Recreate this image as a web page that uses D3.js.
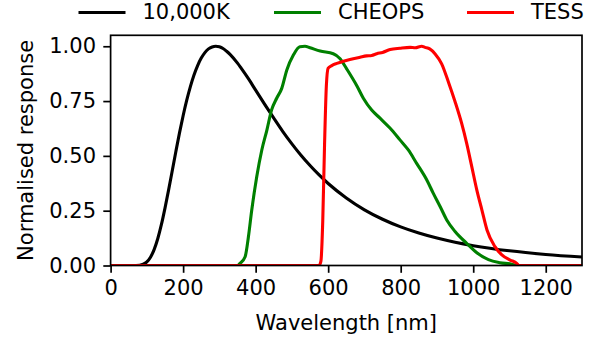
<!DOCTYPE html>
<html>
<head>
<meta charset="utf-8">
<script src="https://cdn.jsdelivr.net/npm/d3@7"></script>
<style>
  body { margin: 0; background: #fff; }
  svg { display: block; font-family: "DejaVu Sans", sans-serif; }
</style>
</head>
<body>
<div id="chart"></div>
<script>
// wavelengths (nm) and normalised response
const bbWave = [0, 60, 80, 90, 100, 110, 120, 130, 140, 150, 160, 170, 180, 190, 200, 210, 220, 230, 240, 250, 260, 270, 280, 290, 300, 310, 320, 330, 350, 360, 380, 400, 425, 450, 475, 500, 525, 550, 575, 600, 650, 700, 750, 800, 850, 900, 950, 1000, 1100, 1200, 1300];
const bbResp = [0, 0.0001, 0.0014, 0.0056, 0.0164, 0.0377, 0.0726, 0.122, 0.186, 0.262, 0.345, 0.432, 0.520, 0.605, 0.683, 0.754, 0.816, 0.869, 0.912, 0.946, 0.971, 0.988, 0.997, 1.0, 0.9975, 0.990, 0.977, 0.962, 0.923, 0.900, 0.852, 0.800, 0.735, 0.672, 0.611, 0.555, 0.503, 0.456, 0.413, 0.374, 0.308, 0.254, 0.211, 0.176, 0.148, 0.125, 0.106, 0.0905, 0.0669, 0.0505, 0.0387];

const cheopsWave = [0, 350, 357, 371, 380, 389, 403, 417, 431, 444, 458, 472, 486, 504, 522, 536, 550, 578, 614, 633, 651, 679, 697, 720, 743, 771, 798, 821, 844, 872, 890, 909, 927, 950, 982, 1010, 1042, 1074, 1106, 1120, 1150];
const cheopsResp = [0, 0, 0.01, 0.04, 0.13, 0.25, 0.405, 0.527, 0.618, 0.71, 0.763, 0.808, 0.892, 0.96, 0.998, 1.0, 0.993, 0.978, 0.966, 0.943, 0.897, 0.82, 0.763, 0.709, 0.672, 0.626, 0.573, 0.527, 0.466, 0.39, 0.329, 0.268, 0.208, 0.155, 0.101, 0.058, 0.027, 0.013, 0.006, 0, 0];

const tessWave = [0, 575, 580, 585, 590, 595, 600, 610, 624, 642, 660, 688, 706, 720, 734, 750, 771, 798, 826, 840, 858, 867, 880, 895, 913, 932, 950, 968, 982, 996, 1010, 1024, 1038, 1060, 1079, 1102, 1120, 1126, 1300];
const tessResp = [0, 0, 0.02, 0.2, 0.55, 0.82, 0.9, 0.912, 0.922, 0.932, 0.94, 0.95, 0.956, 0.958, 0.966, 0.972, 0.985, 0.991, 0.995, 0.993, 1.0, 0.995, 0.988, 0.965, 0.92, 0.835, 0.747, 0.649, 0.557, 0.451, 0.344, 0.253, 0.162, 0.086, 0.048, 0.025, 0.01, 0, 0];

const series = [
  { name: "10,000K", color: "#000000", wave: bbWave, resp: bbResp },
  { name: "CHEOPS", color: "#008000", wave: cheopsWave, resp: cheopsResp },
  { name: "TESS", color: "#ff0000", wave: tessWave, resp: tessResp }
];

const xTicks = [0, 200, 400, 600, 800, 1000, 1200];
const yTicks = [0, 0.25, 0.5, 0.75, 1.0];

const width = 601, height = 340;
const margin = {top: 35.3, right: 19, bottom: 74.5, left: 110.6};
const fontSize = "21px";

const svg = d3.select("#chart").append("svg")
  .attr("width", width)
  .attr("height", height);

const x = d3.scaleLinear()
  .domain([0, 1300])
  .range([margin.left, width - margin.right]);

const y = d3.scaleLinear()
  .domain([0, 1.05])
  .range([height - margin.bottom, margin.top]);

svg.append("clipPath").attr("id", "plotclip")
  .append("rect")
  .attr("x", margin.left).attr("y", margin.top)
  .attr("width", x.range()[1] - margin.left)
  .attr("height", y.range()[0] - margin.top);

const line = d3.line()
  .curve(d3.curveMonotoneX)
  .x(d => x(d[0]))
  .y(d => y(d[1]));

svg.append("g")
  .attr("clip-path", "url(#plotclip)")
  .selectAll("path")
  .data(series)
  .join("path")
  .attr("fill", "none")
  .attr("stroke", d => d.color)
  .attr("stroke-width", 3.1)
  .attr("stroke-linejoin", "round")
  .attr("stroke-linecap", "square")
  .attr("d", d => line(d.wave.map((w, i) => [w, d.resp[i]])));

// frame
svg.append("rect")
  .attr("x", margin.left).attr("y", margin.top)
  .attr("width", x.range()[1] - margin.left)
  .attr("height", y.range()[0] - margin.top)
  .attr("fill", "none")
  .attr("stroke", "#000")
  .attr("stroke-width", 1.7);

let xAxis = g => g
  .attr("transform", `translate(0, ${y(0)})`)
  .call(d3.axisBottom(x).tickValues(xTicks).tickFormat(d3.format("d")).tickSize(7.3).tickPadding(7.3).tickSizeOuter(0))
  .call(g => g.select(".domain").remove())
  .call(g => g.selectAll("line").attr("stroke-width", 1.7))
  .call(g => g.selectAll("text").style("font-size", fontSize).attr("fill", "#000"));

let yAxis = g => g
  .attr("transform", `translate(${margin.left}, 0)`)
  .call(d3.axisLeft(y).tickValues(yTicks).tickFormat(d3.format(".2f")).tickSize(7.3).tickPadding(7.3).tickSizeOuter(0))
  .call(g => g.select(".domain").remove())
  .call(g => g.selectAll("line").attr("stroke-width", 1.7))
  .call(g => g.selectAll("text").style("font-size", fontSize).attr("fill", "#000"));

svg.append("g").call(xAxis);
svg.append("g").call(yAxis);

svg.selectAll(".tick text").attr("font-family", "DejaVu Sans, sans-serif");

svg.append("text")
  .attr("x", (margin.left + x.range()[1]) / 2)
  .attr("y", 330)
  .attr("text-anchor", "middle")
  .style("font-size", fontSize)
  .text("Wavelength [nm]");

svg.append("text")
  .attr("transform", `translate(33, ${(margin.top + y(0)) / 2}) rotate(-90)`)
  .attr("text-anchor", "middle")
  .style("font-size", fontSize)
  .text("Normalised response");

// legend above the axes
const legendX = [78.5, 274, 467];
const legend = svg.append("g")
  .selectAll("g")
  .data(series)
  .join("g")
  .attr("transform", (d, i) => `translate(${legendX[i]}, 12.5)`);

legend.append("line")
  .attr("x1", 0).attr("x2", 47)
  .attr("stroke", d => d.color)
  .attr("stroke-width", 3.1);

legend.append("text")
  .attr("x", 64)
  .attr("dy", "0.3em")
  .style("font-size", fontSize)
  .text(d => d.name);
</script>
</body>
</html>
